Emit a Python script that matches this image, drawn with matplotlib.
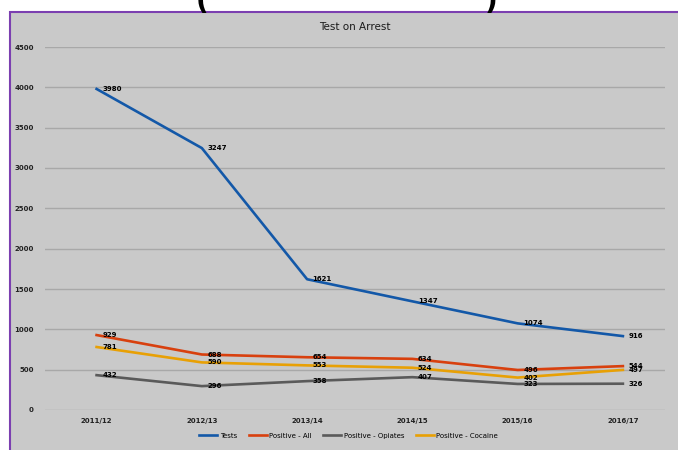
import numpy as np
import matplotlib
matplotlib.use("Agg")
import matplotlib.pyplot as plt
from matplotlib.patches import Rectangle

years = ["2011/12", "2012/13", "2013/14", "2014/15", "2015/16", "2016/17"]
tests = [3980, 3247, 1621, 1347, 1074, 916]
positive_all = [929, 688, 654, 634, 496, 544]
positive_opiates = [432, 296, 358, 407, 323, 326]
positive_cocaine = [781, 590, 553, 524, 402, 497]

series = [
    ("Tests", tests, "#1358a8"),
    ("Positive - All", positive_all, "#d8400e"),
    ("Positive - Opiates", positive_opiates, "#5a5a5a"),
    ("Positive - Cocaine", positive_cocaine, "#e8a004"),
]

fig = plt.figure(figsize=(6.78, 4.5), dpi=100)
fig.patch.set_facecolor("white")

# grey chart box with purple frame (screenshot look)
box = Rectangle((10 / 678, -0.01), 1.0, 1 - 12 / 450 + 0.01,
                transform=fig.transFigure, facecolor="#c9c9c9",
                edgecolor="#7b3fb0", linewidth=1.5, zorder=-10)
fig.add_artist(box)

# clipped heading above the chart
fig.text(202 / 678, 1 - 2 / 450, "(", fontsize=20, fontweight="bold",
         ha="center", va="center", color="black")
fig.text(491 / 678, 1 - 2 / 450, ")", fontsize=20, fontweight="bold",
         ha="center", va="center", color="black")

ax = fig.add_axes([45 / 678, 1 - 410 / 450, 620 / 678, 363 / 450])
ax.set_facecolor("none")
ax.set_zorder(5)
x = np.arange(len(years))

for name, vals, col in series:
    ax.plot(x, vals, color=col, linewidth=1.9, label=name, zorder=3)
    for xi, v in zip(x, vals):
        ax.annotate(str(v), (xi, v), xytext=(4, 0), textcoords="offset points",
                    fontsize=5, fontweight="bold", color="black",
                    ha="left", va="center", zorder=4)

ax.set_xlim(-0.49, 5.40)
ax.set_ylim(0, 4500)
ax.set_yticks(np.arange(0, 4501, 500))
ax.set_xticks(x)
ax.set_xticklabels(years)
ax.grid(axis="y", color="#a8a8a8", linewidth=1.0, zorder=1)
for s in ax.spines.values():
    s.set_visible(False)
ax.tick_params(axis="both", length=0, labelsize=5, colors="#222222")
ax.tick_params(axis="y", pad=8)
ax.tick_params(axis="x", pad=6)
for lab in ax.get_xticklabels() + ax.get_yticklabels():
    lab.set_fontweight("bold")

ax.set_title("Test on Arrest", fontsize=7.5, color="#1a1a1a", pad=12)

ax.legend(loc="upper center", bbox_to_anchor=(0.49, -0.045), ncol=4,
          frameon=False, fontsize=5, handlelength=2.6, columnspacing=1.6,
          handletextpad=0.4)

fig.savefig("out.png", dpi=100)
